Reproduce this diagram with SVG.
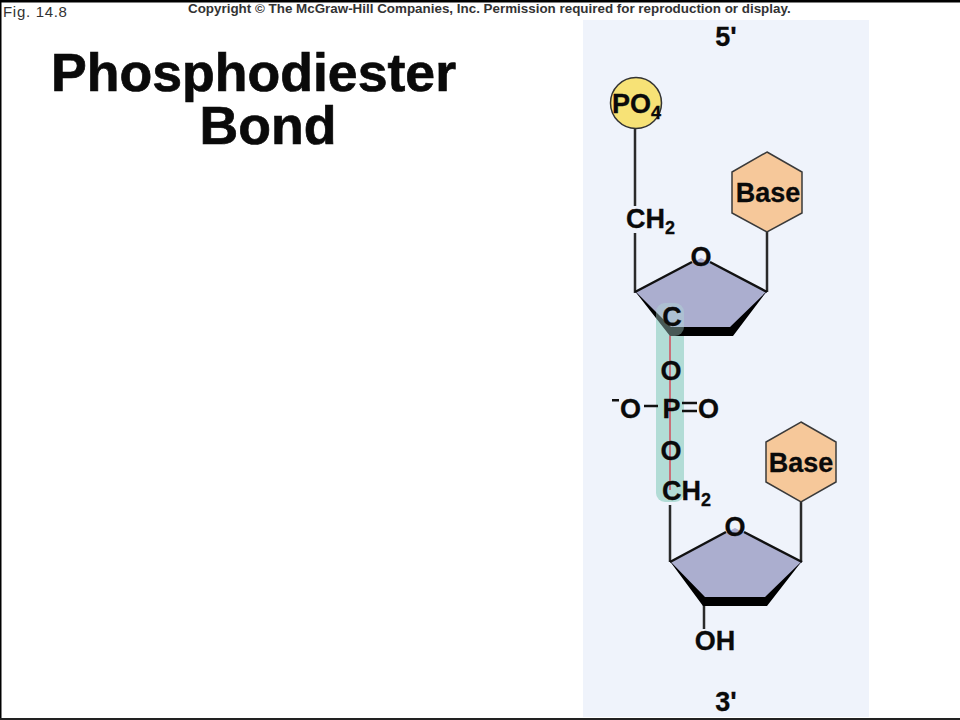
<svg xmlns="http://www.w3.org/2000/svg" width="960" height="720" viewBox="0 0 960 720">
<style>
text{font-family:"Liberation Sans",Arial,sans-serif;font-weight:bold;fill:#0a0a0a}
.lab{font-size:27px;stroke:#0a0a0a;stroke-width:.3}
.sub{font-size:18px}
.bond{stroke:#2a2a2a;stroke-width:2.5;fill:none}
.ring{fill:#abaecf;stroke:none}
.edge{stroke:#111;stroke-width:2.5;fill:none}
.thick{fill:#000;stroke:none}
.hex{fill:#f6c89a;stroke:#3a3a3a;stroke-width:1.5}
.title{font-size:53.6px;stroke:#0a0a0a;stroke-width:.7}
</style>
<rect width="960" height="720" fill="#fff"/>
<rect x="583" y="20" width="286" height="697" fill="#eff3fb"/>
<g id="frame">
<rect x="0" y="0" width="960" height="2.5" fill="#000"/>
<rect x="0" y="0" width="1.5" height="720" fill="#000"/>
<rect x="0" y="718" width="960" height="2" fill="#222"/>
</g>
<g id="header">
<text x="3" y="17" style="font-weight:normal;font-size:15px;letter-spacing:.7px;fill:#333">Fig. 14.8</text>
<text x="188" y="13" style="font-size:13.4px;fill:#333">Copyright © The McGraw-Hill Companies, Inc. Permission required for reproduction or display.</text>
</g>
<g id="title">
<text class="title" x="253.500" y="91" text-anchor="middle">Phosphodiester</text>
<text class="title" x="268" y="144" text-anchor="middle">Bond</text>
</g>
<rect id="bond-highlight" x="656" y="303" width="28" height="199" rx="9" fill="#b2dcd6"/>
<g id="connectors">
<path class="bond" d="M635 129V206M635 233V293M767 232V292M670 505V562M801 502V562M704 605V629"/>
<path d="M670 335V490" stroke="#c9707a" stroke-width="2" fill="none"/>
<path d="M644 406H658M682 403H697M682 411H697" stroke="#111" stroke-width="2.4" fill="none"/>
</g>
<g id="sugar-1">
<path class="ring" d="M635 292L701 258L767 292L732 328H670Z"/>
<path class="edge" d="M635 292L692 262M710 262L767 292"/>
<path class="thick" d="M634 290L671 327L730 327L767 291L733 336H670Z"/>
<text class="lab" x="701" y="266" text-anchor="middle">O</text>
</g>
<rect x="656" y="303" width="28" height="33" rx="9" fill="#b2dcd6" opacity=".4"/>
<g id="sugar-2">
<path class="ring" d="M670 562L735 528L802 562L767 598H703Z"/>
<path class="edge" d="M670 562L726 532M744 532L802 562"/>
<path class="thick" d="M669 560L705 597L765 597L802 561L767 606H703Z"/>
<text class="lab" x="735" y="536" text-anchor="middle">O</text>
</g>
<g id="phosphate-5">
<circle cx="636" cy="103" r="25.5" fill="#f7e276" stroke="#333" stroke-width="1.5"/>
<text class="lab" x="612" y="113">PO<tspan class="sub" dy="6">4</tspan></text>
</g>
<g id="base-1">
<path class="hex" d="M767 152L802 172V213L767 232L732 213V172Z"/>
<text class="lab" x="768" y="202" text-anchor="middle">Base</text>
</g>
<g id="base-2">
<path class="hex" d="M801 422L836 442V482L801 502L766 482V442Z"/>
<text class="lab" x="801" y="472" text-anchor="middle">Base</text>
</g>
<g id="labels">
<text class="lab" x="626" y="228">CH<tspan class="sub" dy="6">2</tspan></text>
<text class="lab" x="672" y="326" text-anchor="middle">C</text>
<text class="lab" x="671" y="380" text-anchor="middle">O</text>
<rect x="612" y="399" width="7" height="2.5" fill="#111"/>
<text class="lab" x="630.500" y="418" text-anchor="middle">O</text>
<text class="lab" x="671.500" y="418" text-anchor="middle">P</text>
<text class="lab" x="708.500" y="418" text-anchor="middle">O</text>
<text class="lab" x="671" y="460" text-anchor="middle">O</text>
<text class="lab" x="662" y="500">CH<tspan class="sub" dy="6">2</tspan></text>
<text class="lab" x="715" y="650" text-anchor="middle">OH</text>
<text class="lab" x="726" y="46" text-anchor="middle">5'</text>
<text class="lab" x="726" y="711" text-anchor="middle">3'</text>
</g>
</svg>
